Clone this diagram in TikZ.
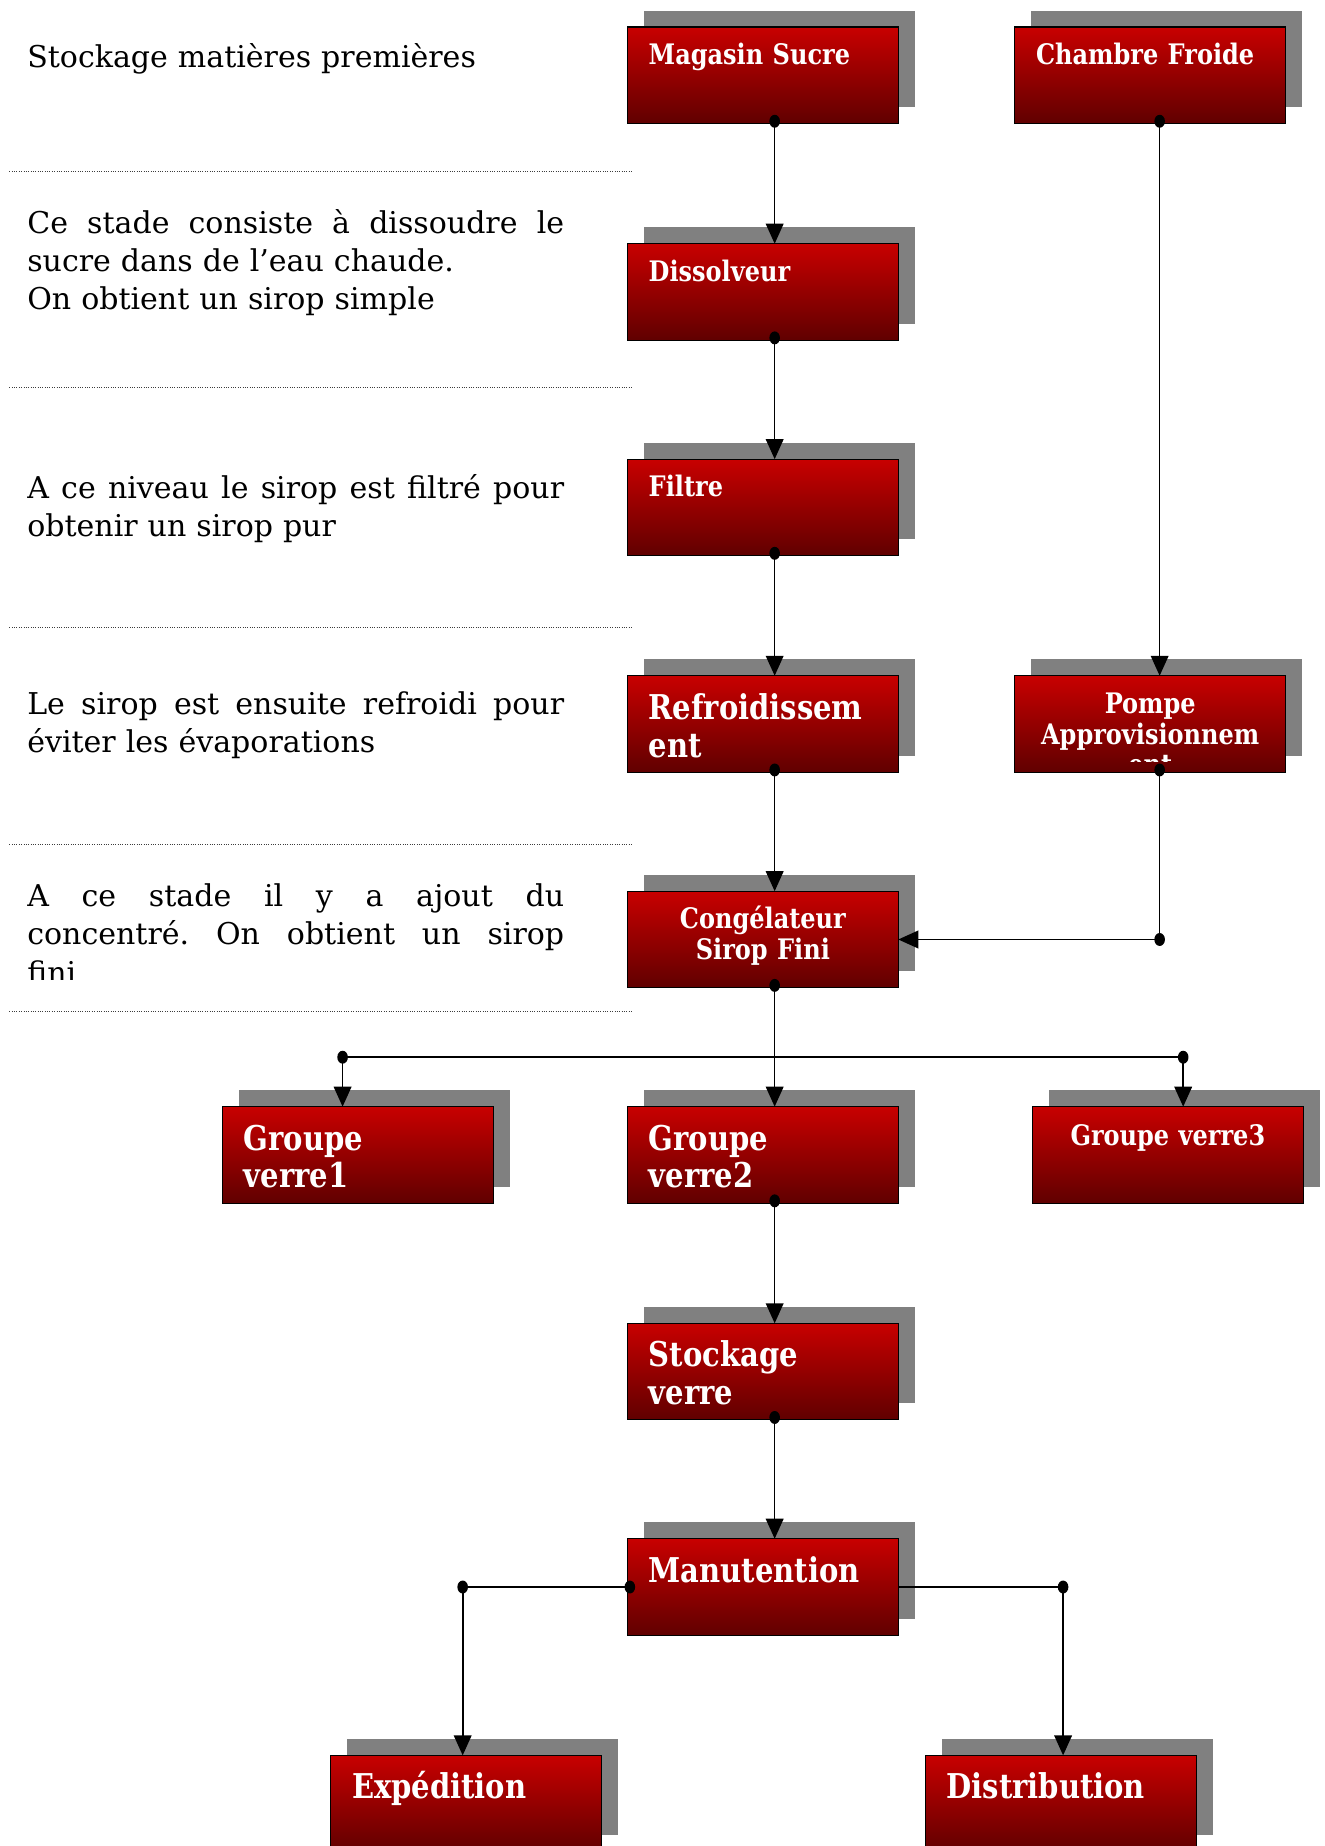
\documentclass[tikz,border=0pt]{standalone}
\usepackage{fontspec}
\setmainfont{DejaVu Serif}
\newfontfamily\boxfont{DejaVu Serif}[FakeStretch=0.85]
\usetikzlibrary{arrows.meta,shadows}
\definecolor{topred}{RGB}{200,0,0}
\definecolor{botred}{RGB}{96,0,0}
\definecolor{shadowgray}{RGB}{128,128,128}
\definecolor{sepgray}{RGB}{60,60,60}
\newcommand\jline[1]{\leavevmode\hbox to 456pt{\frenchspacing\spaceskip=0.32em plus 1fil\relax #1}}
\tikzset{
  box/.style={draw=black, line width=1pt, top color=topred, bottom color=botred,
    minimum width=230pt, minimum height=82pt, inner sep=0pt, outer sep=0pt,
    anchor=north west,
    general shadow={fill=shadowgray, shadow xshift=14pt, shadow yshift=14pt}},
  lbl/.style={text=white, inner sep=0pt, outer sep=0pt, minimum width=0pt,
    minimum height=0pt, shape=rectangle},
  small/.style={font=\boxfont\bfseries\fontsize{24}{26}\selectfont},
  large/.style={font=\boxfont\bfseries\fontsize{29}{32}\selectfont},
  boxL/.style n args={3}{box, path picture={
    \clip ([yshift=9pt]path picture bounding box.south west) rectangle (path picture bounding box.north east);
    \node[lbl, #1, anchor=base west, text width=212pt, align=left] at ([xshift=18pt,yshift=#2]path picture bounding box.north west) {#3};}},
  boxC/.style n args={3}{box, path picture={
    \clip ([yshift=9pt]path picture bounding box.south west) rectangle (path picture bounding box.north east);
    \node[lbl, #1, anchor=base, text width=226pt, align=center] at ([yshift=#2]path picture bounding box.north) {#3};}},
  desc/.style={anchor=base west, inner sep=0pt, text width=456pt, align=left,
    font=\fontsize{25.5}{32.5}\selectfont},
  sepline/.style={line width=0.7pt, draw=sepgray, dash pattern=on 0.7pt off 1.3pt},
  wire/.style={line width=1.4pt},
  conn/.style={line width=1.4pt, -{Triangle[length=17pt,width=15pt]}},
  dotc/.style={fill=black},
}
\begin{document}
\begin{tikzpicture}[x=1pt,y=-1pt]
\fill[white] (0,0) rectangle (1125,1568);
\useasboundingbox (0,0) rectangle (1125,1568);

% separators
\draw[sepline] (8,146) -- (537,146);
\draw[sepline] (8,329) -- (537,329);
\draw[sepline] (8,533) -- (537,533);
\draw[sepline] (8,717) -- (537,717);
\draw[sepline] (8,859) -- (537,859);

% descriptions
\node[desc] (d1) at (23,57) {Stockage matières premières};
\node[desc] (d2) at (23,198) {\jline{Ce stade consiste à dissoudre le}\\sucre dans de l’eau chaude.\\On obtient un sirop simple};
\node[desc] (d3) at (23,423) {\jline{A ce niveau le sirop est filtré pour}\\obtenir un sirop pur};
\node[desc] (d4) at (23,607) {\jline{Le sirop est ensuite refroidi pour}\\éviter les évaporations};
\begin{scope}
\clip (0,735) rectangle (540,832);
\node[desc] (d5) at (23,770) {\jline{A ce stade il y a ajout du}\\\jline{concentré. On obtient un sirop}\\fini};
\end{scope}

% boxes
\node[boxL={small}{-32pt}{Magasin Sucre}] (ms) at (533,23) {};
\node[boxL={small}{-32pt}{Chambre Froide}] (cf) at (862,23) {};
\node[boxL={small}{-32pt}{Dissolveur}] (dis) at (533,207) {};
\node[boxL={small}{-32pt}{Filtre}] (fil) at (533,390) {};
\node[boxL={large}{-37pt}{Refroidissem\\ent}] (ref) at (533,574) {};
\node[boxC={small}{-32pt}{Pompe\\Approvisionnem\\ent}] (pompe) at (862,574) {};
\node[boxC={small}{-32pt}{Congélateur\\Sirop Fini}] (cong) at (533,757) {};
\node[boxL={large}{-37pt}{Groupe\\verre1}] (gv1) at (189,940) {};
\node[boxL={large}{-37pt}{Groupe\\verre2}] (gv2) at (533,940) {};
\node[boxC={small}{-33pt}{Groupe verre3}] (gv3) at (877,940) {};
\node[boxL={large}{-37pt}{Stockage\\verre}] (sv) at (533,1124) {};
\node[boxL={large}{-37pt}{Manutention}] (man) at (533,1307) {};
\node[boxL={large}{-37pt}{Expédition}] (exp) at (281,1491) {};
\node[boxL={large}{-37pt}{Distribution}] (dist) at (786,1491) {};

% main column
\coordinate (a1) at ([xshift=125pt,yshift=2pt]ms.south west);
\coordinate (a2) at ([xshift=125pt,yshift=2pt]dis.south west);
\coordinate (a3) at ([xshift=125pt,yshift=2pt]fil.south west);
\coordinate (a4) at ([xshift=125pt,yshift=2pt]ref.south west);
\coordinate (a5) at ([xshift=125pt,yshift=2pt]cong.south west);
\coordinate (a6) at ([xshift=125pt,yshift=2pt]gv2.south west);
\coordinate (a7) at ([xshift=125pt,yshift=2pt]sv.south west);
\draw[conn] (a1) -- ([xshift=125pt]dis.north west);
\draw[conn] (a2) -- ([xshift=125pt]fil.north west);
\draw[conn] (a3) -- ([xshift=125pt]ref.north west);
\draw[conn] (a4) -- ([xshift=125pt]cong.north west);
\draw[conn] (a5) -- ([xshift=125pt]gv2.north west);
\draw[conn] (a6) -- ([xshift=125pt]sv.north west);
\draw[conn] (a7) -- ([xshift=125pt]man.north west);

% right column
\coordinate (b1) at ([xshift=123pt,yshift=2pt]cf.south west);
\coordinate (b2) at ([xshift=123pt,yshift=2pt]pompe.south west);
\coordinate (jp) at (b2 |- cong.east);
\draw[conn] (b1) -- ([xshift=123pt]pompe.north west);
\draw[wire] (b2) -- (jp);
\draw[conn] (jp) -- (cong.east);

% glass groups
\coordinate (g1t) at ([xshift=102pt]gv1.north west);
\coordinate (g3t) at ([xshift=128pt]gv3.north west);
\coordinate (h1) at ([yshift=42pt]g1t);
\coordinate (h3) at ([yshift=42pt]g3t);
\draw[wire] (h1) -- (h3);
\draw[conn] (h1) -- (g1t);
\draw[conn] (h3) -- (g3t);

% handling split
\coordinate (ml) at ([xshift=2pt]man.west);
\coordinate (et) at ([xshift=112pt]exp.north west);
\coordinate (jl) at (et |- ml);
\coordinate (dt) at ([xshift=117pt]dist.north west);
\coordinate (jr) at (dt |- man.east);
\draw[wire] (ml) -- (jl);
\draw[conn] (jl) -- (et);
\draw[wire] (man.east) -- (jr);
\draw[conn] (jr) -- (dt);

% dots
\foreach \p in {a1,a2,a3,a4,a5,a6,a7,b1,b2,jp,h1,h3,ml,jl,jr}
  \fill[dotc] (\p) circle[x radius=4.5pt, y radius=5.5pt];
\end{tikzpicture}
\end{document}
